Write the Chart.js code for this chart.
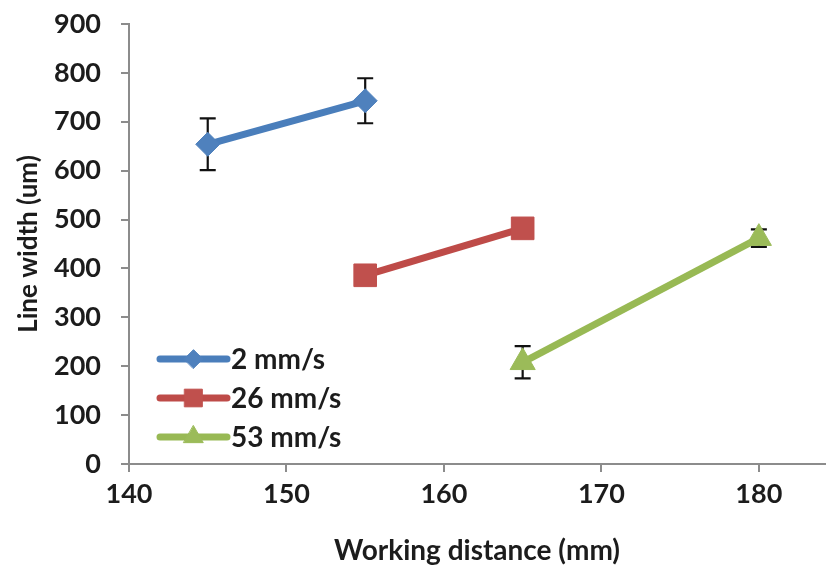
<!DOCTYPE html>
<html>
<head>
<meta charset="utf-8">
<script src="https://cdn.jsdelivr.net/npm/chart.js@4.4.1/dist/chart.umd.min.js"></script>
<style>
  html, body { margin: 0; padding: 0; background: #fff; }
  #wrap { width: 827px; height: 572px; }
</style>
</head>
<body>
<div id="wrap"><canvas id="chart" width="827" height="572"></canvas></div>
<script>
// Data
const seriesNames = ['2 mm/s', '26 mm/s', '53 mm/s'];
const distance2 = [145, 155];
const width2 = [654, 743];
const err2 = [53, 46];
const distance26 = [155, 165];
const width26 = [386, 482];
const err26 = [0, 0];
const distance53 = [165, 180];
const width53 = [208, 462];
const err53 = [33, 18];

const lineColors = ['#4A7EBB', '#BE4B48', '#98B954'];
const markerColors = ['#4F81BD', '#C0504D', '#9BBB59'];
const markerStyles = ['rectRot', 'rect', 'triangle'];
const markerSizes = [12, 16, 14.5];

const fontFamily = 'Lato, "Open Sans", sans-serif';
const textColor = '#1c1c1c';
const axisColor = '#8c8c8c';

function toPoints(xs, ys) {
    return xs.map((x, i) => ({ x: x, y: ys[i] }));
}

const allX = [distance2, distance26, distance53];
const allY = [width2, width26, width53];
const allErr = [err2, err26, err53];

const datasets = seriesNames.map((name, i) => ({
    label: name,
    data: toPoints(allX[i], allY[i]),
    showLine: true,
    borderColor: lineColors[i],
    borderWidth: 7,
    backgroundColor: markerColors[i],
    pointStyle: markerStyles[i],
    pointRadius: markerSizes[i],
    pointHoverRadius: markerSizes[i],
    pointBackgroundColor: markerColors[i],
    pointBorderColor: markerColors[i],
    pointBorderWidth: 1,
    errors: allErr[i]
}));

// Error bars, drawn under the markers
const errorBars = {
    id: 'errorBars',
    beforeDatasetsDraw(chart) {
        const ctx = chart.ctx;
        const xs = chart.scales.x, ys = chart.scales.y;
        ctx.save();
        ctx.strokeStyle = '#111';
        ctx.lineWidth = 2.2;
        chart.data.datasets.forEach(ds => {
            ds.data.forEach((p, j) => {
                const e = ds.errors[j];
                if (!e) return;
                const px = xs.getPixelForValue(p.x);
                const top = ys.getPixelForValue(p.y + e);
                const bot = ys.getPixelForValue(p.y - e);
                ctx.beginPath();
                ctx.moveTo(px, top); ctx.lineTo(px, bot);
                ctx.moveTo(px - 8, top); ctx.lineTo(px + 8, top);
                ctx.moveTo(px - 8, bot); ctx.lineTo(px + 8, bot);
                ctx.stroke();
            });
        });
        ctx.restore();
    }
};

// Legend inside the plot area, lower left
const insideLegend = {
    id: 'insideLegend',
    afterDraw(chart) {
        const ctx = chart.ctx;
        const x0 = 160, x1 = 227, y0 = 359, rowGap = 39;
        ctx.save();
        chart.data.datasets.forEach((ds, i) => {
            const y = y0 + i * rowGap;
            ctx.strokeStyle = ds.borderColor;
            ctx.lineWidth = ds.borderWidth;
            ctx.lineCap = 'round';
            ctx.beginPath();
            ctx.moveTo(x0, y); ctx.lineTo(x1, y);
            ctx.stroke();
            ctx.fillStyle = ds.pointBackgroundColor;
            ctx.strokeStyle = ds.pointBorderColor;
            ctx.lineWidth = 1;
            Chart.helpers.drawPoint(ctx, { pointStyle: ds.pointStyle, radius: ds.pointRadius * 0.78, borderWidth: 1 }, (x0 + x1) / 2, y);
            ctx.fillStyle = textColor;
            ctx.font = 'bold 28px ' + fontFamily;
            ctx.textBaseline = 'middle';
            ctx.textAlign = 'left';
            ctx.fillText(ds.label, x1 + 4, y + 1);
        });
        ctx.restore();
    }
};

new Chart(document.getElementById('chart'), {
    type: 'scatter',
    data: { datasets: datasets },
    options: {
        responsive: false,
        animation: false,
        devicePixelRatio: 1,
        layout: { autoPadding: false, padding: { top: 24, right: 2, left: 0, bottom: 0 } },
        plugins: {
            legend: { display: false },
            tooltip: { enabled: false }
        },
        scales: {
            x: {
                type: 'linear',
                min: 140,
                max: 184.2,
                afterFit(scale) {
                    scale.height = 108;
                    scale.paddingLeft = 0;
                    scale.paddingRight = 0;
                },
                ticks: {
                    stepSize: 10,
                    includeBounds: false,
                    color: textColor,
                    padding: 6,
                    font: { family: fontFamily, size: 27, weight: 'bold' }
                },
                grid: { drawOnChartArea: false, color: axisColor, tickLength: 8, lineWidth: 2 },
                border: { color: axisColor, width: 2 },
                title: {
                    display: true,
                    text: 'Working distance (mm)',
                    color: textColor,
                    padding: { top: 0, bottom: 4 },
                    font: { family: fontFamily, size: 28, weight: 'bold' }
                }
            },
            y: {
                min: 0,
                max: 900,
                afterFit(scale) {
                    scale.width = 129;
                    scale.paddingTop = 0;
                    scale.paddingBottom = 0;
                },
                ticks: {
                    stepSize: 100,
                    color: textColor,
                    padding: 20,
                    font: { family: fontFamily, size: 27, weight: 'bold' }
                },
                grid: { drawOnChartArea: false, color: axisColor, tickLength: 8, lineWidth: 2 },
                border: { color: axisColor, width: 2 },
                title: {
                    display: true,
                    text: 'Line width (um)',
                    color: textColor,
                    padding: { top: 13, bottom: 0 },
                    font: { family: fontFamily, size: 26, weight: 'bold' }
                }
            }
        }
    },
    plugins: [errorBars, insideLegend]
});
</script>
</body>
</html>
